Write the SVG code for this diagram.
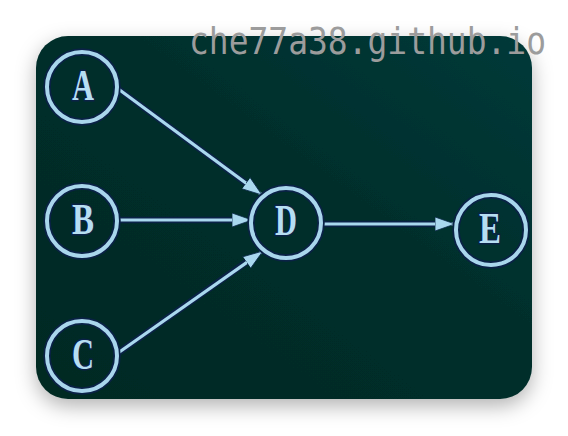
<svg xmlns="http://www.w3.org/2000/svg" width="568" height="436" viewBox="0 0 568 436">
  <defs>
    <filter id="shadow" x="-20%" y="-20%" width="140%" height="150%">
      <feDropShadow dx="0" dy="7" stdDeviation="10" flood-color="#000" flood-opacity="0.3"/>
    </filter>
    <linearGradient id="bg" x1="0" y1="1" x2="1" y2="0">
      <stop offset="0" stop-color="#012923"/>
      <stop offset="0.6" stop-color="#022f2c"/>
      <stop offset="1" stop-color="#063a39"/>
    </linearGradient>
    <marker id="arrow" markerUnits="userSpaceOnUse" markerWidth="22" markerHeight="16" refX="20" refY="7.5" orient="auto">
      <path d="M0,0.5 L20,7.5 L0,14.5 z" fill="#a9d8ee" stroke="#0b2a4a" stroke-width="0.8"/>
    </marker>
    <style>
      .halo { fill: none; stroke: #0a2246; stroke-width: 7.5; }
      .ring { fill: none; stroke: #a9d6ec; stroke-width: 4; }
      .lbl { font-family: "Liberation Serif", "DejaVu Serif", serif; font-weight: bold; font-size: 44px; fill: #b6def2; stroke: #0a2246; stroke-width: 3; paint-order: stroke; text-anchor: middle; }
      .edge-halo { stroke: #0a2246; stroke-width: 6.5; fill: none; }
      .edge { stroke: #a9d8ee; stroke-width: 3.2; fill: none; }
      .wm { font-family: "DejaVu Sans Mono", "Liberation Mono", monospace; font-size: 38px; fill: #9c9c9c; }
    </style>
  </defs>
  <rect width="568" height="436" fill="#ffffff"/>
  <rect x="36" y="36" width="496" height="363" rx="32" ry="32" fill="url(#bg)" filter="url(#shadow)"/>

  <g id="connectors">
    <line class="edge-halo" x1="117" y1="88" x2="247" y2="184"/>
    <line class="edge-halo" x1="118" y1="220" x2="234" y2="220"/>
    <line class="edge-halo" x1="118" y1="353" x2="248" y2="261"/>
    <line class="edge-halo" x1="321" y1="224" x2="435" y2="224"/>
    <line class="edge" x1="117" y1="88" x2="262" y2="195" marker-end="url(#arrow)"/>
    <line class="edge" x1="118" y1="220" x2="252" y2="220" marker-end="url(#arrow)"/>
    <line class="edge" x1="118" y1="353" x2="263" y2="251" marker-end="url(#arrow)"/>
    <line class="edge" x1="321" y1="224" x2="455" y2="224" marker-end="url(#arrow)"/>
  </g>

  <g id="node-A">
    <circle class="halo" cx="82" cy="87" r="35"/>
    <circle class="ring" cx="82" cy="87" r="35"/>
    <text class="lbl" x="83" y="100" textLength="22" lengthAdjust="spacingAndGlyphs">A</text>
  </g>
  <g id="node-B">
    <circle class="halo" cx="82" cy="221" r="35"/>
    <circle class="ring" cx="82" cy="221" r="35"/>
    <text class="lbl" x="83" y="234" textLength="22" lengthAdjust="spacingAndGlyphs">B</text>
  </g>
  <g id="node-C">
    <circle class="halo" cx="82" cy="356" r="35"/>
    <circle class="ring" cx="82" cy="356" r="35"/>
    <text class="lbl" x="83" y="369" textLength="22" lengthAdjust="spacingAndGlyphs">C</text>
  </g>
  <g id="node-D">
    <circle class="halo" cx="286" cy="223" r="35"/>
    <circle class="ring" cx="286" cy="223" r="35"/>
    <text class="lbl" x="286" y="235" textLength="22" lengthAdjust="spacingAndGlyphs">D</text>
  </g>
  <g id="node-E">
    <circle class="halo" cx="491" cy="230" r="35"/>
    <circle class="ring" cx="491" cy="230" r="35"/>
    <text class="lbl" x="490" y="243" textLength="22" lengthAdjust="spacingAndGlyphs">E</text>
  </g>

  <text class="wm" x="189" y="54" textLength="357" lengthAdjust="spacingAndGlyphs">che77a38.github.io</text>
</svg>
